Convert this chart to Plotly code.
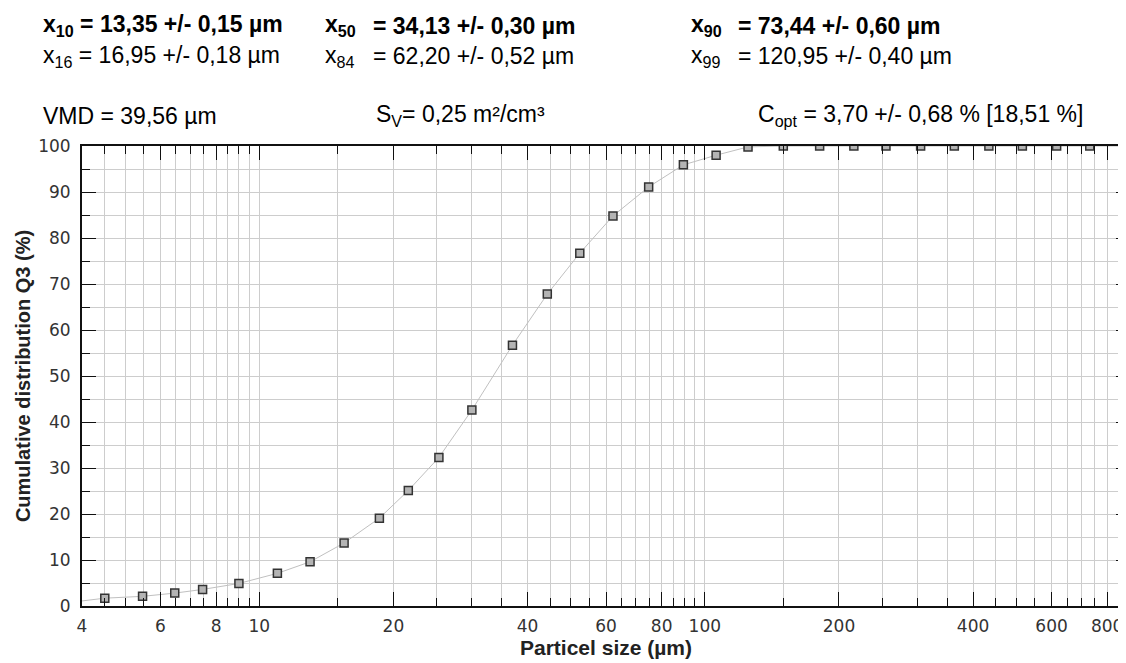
import math
import plotly.graph_objects as go

# ---- data ----
size_um = [4.5, 5.47, 6.46, 7.46, 9.0, 10.98, 13.0, 15.5, 18.6, 21.6, 25.3, 30.0,
           37.0, 44.3, 52.4, 62.2, 74.8, 89.5, 106, 125, 150, 181, 216, 255, 305,
           363, 434, 516, 616, 731, 870]
q3_pct = [1.7, 2.1, 2.8, 3.6, 4.9, 7.1, 9.6, 13.7, 19.1, 25.1, 32.3, 42.6,
          56.7, 67.8, 76.7, 84.8, 91.1, 95.9, 98.0, 99.8, 100, 100, 100, 100, 100,
          100, 100, 100, 100, 100, 100]
curve_x = [4.0] + size_um
curve_y = [1.1] + q3_pct

x_major = [4, 6, 8, 10, 20, 40, 60, 80, 100, 200, 400, 600, 800]
x_major_text = ["4", "6", "8", "10", "20", "40", "60", "80", "100", "200", "400", "600", "800"]
x_minor = [4.5, 5, 5.5, 6.5, 7, 7.5, 8.5, 9, 9.5, 15, 25, 30, 35, 45, 50, 55, 65, 70, 75,
           85, 90, 95, 150, 250, 300, 350, 450, 500, 550, 650, 700, 750, 850]
y_major = [0, 10, 20, 30, 40, 50, 60, 70, 80, 90, 100]
y_minor = [5, 15, 25, 35, 45, 55, 65, 75, 85, 95]

header_rows = [
    ("<b>x<sub>10</sub> = 13,35 +/- 0,15 µm</b>", 33, 18),
    ("x<sub>16</sub> = 16,95 +/- 0,18 µm", 33, 48),
    ("<b>x<sub>50</sub></b>", 315, 18),
    ("<b>= 34,13 +/- 0,30 µm</b>", 363, 18),
    ("x<sub>84</sub>", 315, 48),
    ("= 62,20 +/- 0,52 µm", 363, 48),
    ("<b>x<sub>90</sub></b>", 681, 18),
    ("<b>= 73,44 +/- 0,60 µm</b>", 728, 18),
    ("x<sub>99</sub>", 681, 48),
    ("= 120,95 +/- 0,40 µm", 728, 48),
    ("VMD = 39,56 µm", 33, 108),
    ("S<sub>V</sub>= 0,25 m²/cm³", 366, 108),
    ("C<sub>opt</sub> = 3,70 +/- 0,68 % [18,51 %]", 748, 108),
]

W, H = 1126, 663
ML, MR, MT, MB = 74, 4, 138, 65
PW, PH = W - ML - MR, H - MT - MB

fig = go.Figure()
fig.add_trace(go.Scatter(x=curve_x, y=curve_y, mode="lines",
                         line=dict(color="#c0c0c0", width=1), hoverinfo="skip"))
fig.add_trace(go.Scatter(x=size_um, y=q3_pct, mode="markers",
                         marker=dict(symbol="square", size=8, color="#b4b4b4",
                                     line=dict(color="#333333", width=1.5))))

grid = "#cdcdcd"
axis_font = dict(family="DejaVu Sans", size=17, color="#333333")
title_font = dict(family="Liberation Sans, Arial", size=20, color="#222222")
fig.update_xaxes(type="log", range=[math.log10(4), math.log10(900)],
                 tickmode="array", tickvals=x_major, ticktext=x_major_text,
                 ticks="inside", ticklen=14, tickwidth=1.2, tickcolor="#111111",
                 showline=True, linewidth=2, linecolor="#111111", mirror="ticks",
                 showgrid=True, gridcolor=grid, gridwidth=1,
                 minor=dict(tickvals=x_minor, ticks="inside", ticklen=8, tickwidth=1.2,
                            tickcolor="#111111", showgrid=True, gridcolor=grid, gridwidth=1),
                 tickfont=axis_font, ticklabelstandoff=4,
                 title=dict(text="<b>Particel size (µm)</b>", standoff=4,
                            font=dict(family="Liberation Sans, Arial", size=21, color="#222222")),
                 zeroline=False)
fig.update_yaxes(range=[0, 100], tickmode="array", tickvals=y_major,
                 ticks="inside", ticklen=14, tickwidth=1.2, tickcolor="#111111",
                 showline=True, linewidth=2, linecolor="#111111", mirror="ticks",
                 showgrid=True, gridcolor=grid, gridwidth=1,
                 minor=dict(tickvals=y_minor, ticks="inside", ticklen=8, tickwidth=1.2,
                            tickcolor="#111111", showgrid=True, gridcolor=grid, gridwidth=1),
                 tickfont=axis_font, ticklabelstandoff=6,
                 title=dict(text="<b>Cumulative distribution Q3 (%)</b>", standoff=2, font=title_font),
                 zeroline=False)

for text, px, py in header_rows:
    fig.add_annotation(text=text, xref="paper", yref="paper",
                       x=(px - ML) / PW, y=(H - MB - py) / PH,
                       xanchor="left", yanchor="middle", showarrow=False,
                       font=dict(family="Liberation Sans, Arial", size=23, color="#000000"))

fig.update_layout(width=W, height=H, margin=dict(l=ML, r=MR, t=MT, b=MB, autoexpand=False),
                  paper_bgcolor="white", plot_bgcolor="white", showlegend=False)

fig.write_html("out.html")
